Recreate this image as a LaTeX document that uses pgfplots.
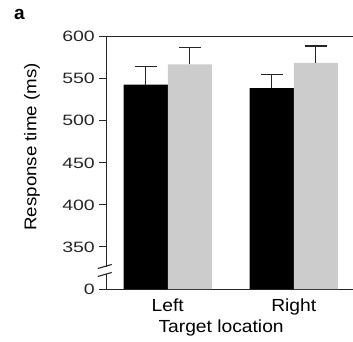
\documentclass[border=0pt]{standalone}
\usepackage{pgfplots}
\pgfplotsset{compat=1.18}
\usepackage{fontspec}
\setmainfont{Liberation Sans}
\newfontfamily\labelfont[FakeStretch=1.1]{Liberation Sans}
\newfontfamily\tickfont[FakeStretch=1.3]{Liberation Sans}
\definecolor{axisgray}{HTML}{262626}
\definecolor{barlight}{HTML}{CCCCCC}

\begin{document}
\begin{tikzpicture}
\path[use as bounding box] (0,0) rectangle (353pt,341pt);
\node[anchor=base west, inner sep=0pt, font=\bfseries\fontsize{19}{19}\selectfont] at (14pt,321pt) {a};
\begin{axis}[
  at={(106pt,52pt)}, anchor=south west,
  width=247pt, height=252.3pt, scale only axis,
  xmin=0.51, xmax=2.47, ymin=300, ymax=600,
  axis lines=left,
  axis line style={-, line width=1pt, color=axisgray},
  ybar=0pt, bar width=0.35,
  xtick={1,2}, xticklabels={Left,Right},
  major x tick style={draw=none},
  ytick={300,350,...,600},
  yticklabels={0,350,400,450,500,550,600},
  tick align=outside, major tick length=7pt,
  ytick style={line width=1pt, color=axisgray},
  yticklabel style={font=\tickfont\fontsize{15}{15}\selectfont, text=axisgray, inner sep=0pt, xshift=-4pt},
  xticklabel style={font=\labelfont\fontsize{17.5}{17.5}\selectfont, anchor=base, inner sep=0pt, yshift=-15.7pt},
  xlabel={Target location},
  xlabel style={at={(axis description cs:0.466,0)}, anchor=base, inner sep=0pt, yshift=-43.7pt, font=\labelfont\fontsize{17.5}{17.5}\selectfont},
  ylabel={Response time (ms)},
  ylabel style={at={(axis description cs:-0.30,0.563)}, anchor=center, font=\labelfont\fontsize{17}{17}\selectfont},
  error bars/error bar style={line width=1.1pt, color=axisgray},
  error bars/error mark options={rotate=90, mark size=11pt, line width=1.1pt, color=axisgray},
  after end axis/.code={
    % top frame line
    \draw[line width=1pt, axisgray] (rel axis cs:0,1) -- (rel axis cs:1,1);
    % break on the value axis
    \fill[white] ([xshift=-3pt,yshift=22pt]rel axis cs:0,0) rectangle ([xshift=3pt,yshift=15pt]rel axis cs:0,0);
    \draw[line width=1.1pt, axisgray] ([xshift=-8.3pt,yshift=20.5pt]rel axis cs:0,0) -- ([xshift=5.7pt,yshift=24.5pt]rel axis cs:0,0);
    \draw[line width=1.1pt, axisgray] ([xshift=-8.3pt,yshift=12.5pt]rel axis cs:0,0) -- ([xshift=5.7pt,yshift=16.5pt]rel axis cs:0,0);
  },
]
\addplot[fill=black, draw=none,
  error bars/.cd, y dir=plus, y explicit]
  coordinates {(1,543) +- (0,22) (2,539) +- (0,16)};
\addplot[fill=barlight, draw=none,
  error bars/.cd, y dir=plus, y explicit]
  coordinates {(1,567) +- (0,20) (2,569) +- (0,20)};
\end{axis}
\end{tikzpicture}
\end{document}
